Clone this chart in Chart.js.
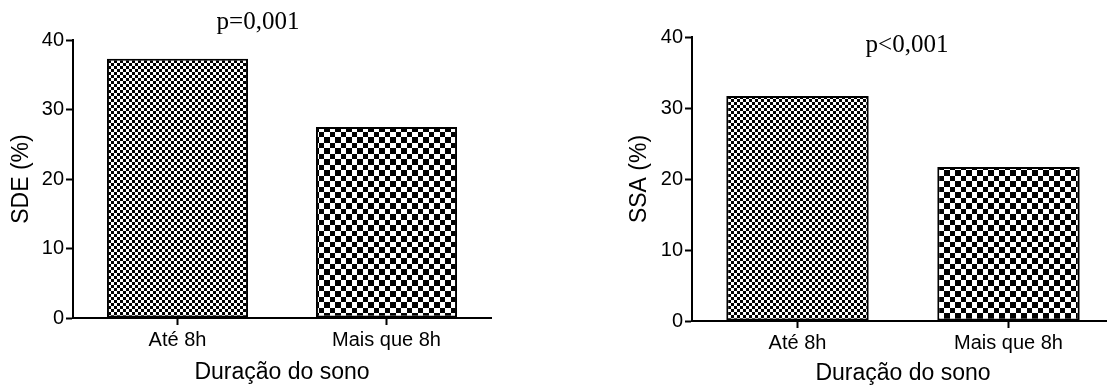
<!DOCTYPE html>
<html>
<head>
<meta charset="utf-8">
<script src="https://cdn.jsdelivr.net/npm/chart.js@4.4.1/dist/chart.umd.min.js"></script>
<style>
  html, body { margin: 0; padding: 0; background: #fff; overflow: hidden; }
  #wrap { position: relative; width: 1107px; height: 387px; overflow: hidden; }
  .box { position: absolute; top: 0; height: 387px; }
  canvas { display: block; }
</style>
</head>
<body>
<div id="wrap">
  <div class="box" style="left:0;width:500px"><canvas id="chartSDE" width="500" height="387"></canvas></div>
  <div class="box" style="left:620px;width:500px"><canvas id="chartSSA" width="500" height="387"></canvas></div>
</div>
<script>
const categories = ['Até 8h', 'Mais que 8h'];
const sdeValues = [37.3, 27.5];
const ssaValues = [31.7, 21.7];
const yTickValues = [0, 10, 20, 30, 40];
const pLabels = ['p=0,001', 'p<0,001'];
const yTitles = ['SDE (%)', 'SSA (%)'];
const xTitle = 'Duração do sono';

const sans = 'Arial, "Liberation Sans", sans-serif';

// checkerboard fill like the prism hatch
function checker(a, b) {
  const c = document.createElement('canvas');
  c.width = a + b;
  c.height = a + b;
  const g = c.getContext('2d');
  g.fillStyle = '#fff';
  g.fillRect(0, 0, a + b, a + b);
  g.fillStyle = '#000';
  g.fillRect(0, 0, a, a);
  g.fillRect(a, a, b, b);
  return g.createPattern(c, 'repeat');
}

const pValuePlugin = {
  id: 'pValue',
  afterDraw(chart, args, opts) {
    const ctx = chart.ctx;
    ctx.save();
    ctx.font = opts.font;
    ctx.fillStyle = '#000';
    ctx.textAlign = 'center';
    ctx.textBaseline = 'middle';
    ctx.fillText(opts.text, opts.x, opts.y);
    ctx.restore();
  }
};

function makeChart(id, values, yTitle, pLabel, lay) {
  const ctx = document.getElementById(id).getContext('2d');
  return new Chart(ctx, {
    type: 'bar',
    data: {
      labels: categories,
      datasets: [{
        data: values,
        backgroundColor: [checker(3, 3), checker(5, 6)],
        borderColor: '#000',
        borderWidth: 2,
        borderSkipped: false,
        barPercentage: 0.675,
        categoryPercentage: 1
      }]
    },
    options: {
      responsive: false,
      animation: false,
      events: [],
      layout: { padding: { top: lay.top, right: lay.right, left: 0, bottom: 0 } },
      plugins: {
        legend: { display: false },
        tooltip: { enabled: false },
        pValue: { text: pLabel, x: lay.pX, y: lay.pY, font: '25px "Times New Roman", "Liberation Serif", serif' }
      },
      scales: {
        x: {
          afterFit(scale) { scale.height = 387 - lay.bottom; },
          border: { display: true, color: '#000', width: 2 },
          grid: { offset: false, drawOnChartArea: false, tickLength: 7, tickWidth: 2, tickColor: '#000', color: '#000' },
          ticks: { color: '#000', font: { family: sans, size: 20 }, padding: 3 },
          title: { display: true, text: xTitle, color: '#000', font: { family: sans, size: 23 }, padding: { top: 0, bottom: lay.xTitlePad } }
        },
        y: {
          min: 0,
          max: 40,
          afterFit(scale) { scale.width = lay.axisX; },
          afterBuildTicks(scale) { scale.ticks = yTickValues.map(v => ({ value: v })); },
          border: { display: true, color: '#000', width: 2 },
          grid: { drawOnChartArea: false, tickLength: 7, tickWidth: 2, tickColor: '#000', color: '#000' },
          ticks: { color: '#000', font: { family: sans, size: 20 }, padding: 2 },
          title: { display: true, text: yTitle, color: '#000', font: { family: sans, size: 23 }, padding: { top: lay.titlePad, bottom: 0 } }
        }
      }
    },
    plugins: [pValuePlugin]
  });
}

makeChart('chartSDE', sdeValues, yTitles[0], pLabels[0],
  { axisX: 73, top: 40, bottom: 318, right: 9, titlePad: 8, xTitlePad: 1, pX: 258, pY: 22 });
makeChart('chartSSA', ssaValues, yTitles[1], pLabels[1],
  { axisX: 72, top: 37, bottom: 321, right: 6, titlePad: 6, xTitlePad: 0, pX: 287, pY: 45 });
</script>
</body>
</html>
